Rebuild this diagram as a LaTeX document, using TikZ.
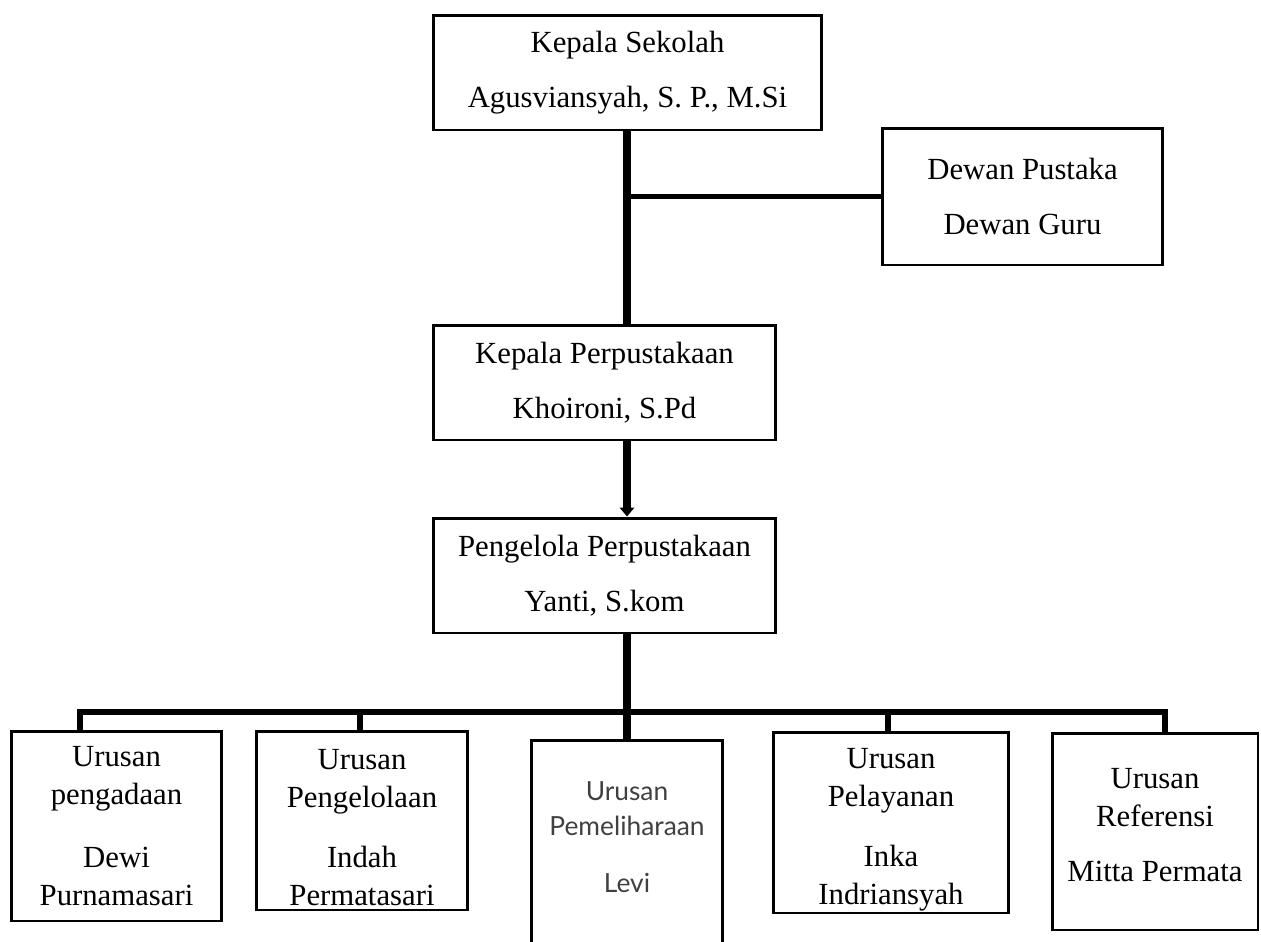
\documentclass[tikz,border=0pt]{standalone}
\usepackage{fontspec}
\setmainfont{Liberation Serif}
\newfontfamily\levifont{Lato}
\usetikzlibrary{arrows.meta}
\tikzset{post/.style={draw, line width=1.7pt, align=center, inner sep=0pt, font=\fontsize{17.5}{21}\selectfont}}
\tikzset{unit/.style={post, font=\fontsize{17.5}{21.6}\selectfont}}
\tikzset{trunk/.style={line width=4.5pt}}
\tikzset{branch/.style={line width=3.4pt, line join=miter}}
\tikzset{side/.style={line width=2.3pt}}
\begin{document}
\begin{tikzpicture}[x=0.02cm, y=-0.02cm]
\clip (0,0) rectangle (1261,941);
\node[post, minimum width=7.78cm, minimum height=2.3cm](boss) at (627.5,72.5){Kepala Sekolah\\[10pt]Agusviansyah, S. P., M.Si};
\node[post, minimum width=5.62cm, minimum height=2.74cm](council) at (1022.5,196.5){Dewan Pustaka\\[10pt]Dewan Guru};
\node[post, minimum width=6.86cm, minimum height=2.3cm](libhead) at (604.5,382.5){Kepala Perpustakaan\\[10pt]Khoironi, S.Pd};
\node[post, minimum width=6.86cm, minimum height=2.3cm](manager) at (604.5,575.5){Pengelola Perpustakaan\\[10pt]Yanti, S.kom};
\node[unit, minimum width=4.22cm, minimum height=3.8cm](unit1) at (116.5,826){Urusan\\pengadaan\\[14pt]Dewi\\Purnamasari};
\node[unit, minimum width=4.24cm, minimum height=3.58cm](unit2) at (362,820.5){\mbox{}\\[-2pt]Urusan\\Pengelolaan\\[12.5pt]Indah\\Permatasari};
\node[unit, minimum width=3.84cm, minimum height=5cm, font=\levifont\fontsize{15}{20}\selectfont, text=black!75](unit3) at (627,865){Urusan\\Pemeliharaan\\[12pt]Levi\\[12pt]\mbox{}};
\node[unit, minimum width=4.72cm, minimum height=3.62cm](unit4) at (891,822.5){\mbox{}\\[-2pt]Urusan\\Pelayanan\\[13pt]Inka\\Indriansyah};
\node[unit, minimum width=4.12cm, minimum height=3.94cm](unit5) at (1155,831.5){Urusan\\Referensi\\[10pt]Mitta Permata\\[-14pt]\mbox{}};
\coordinate (t1) at (80,712);
\coordinate (t2) at (360,712);
\coordinate (t3) at (627,712);
\coordinate (t4) at (888,712);
\coordinate (t5) at (1165,712);
\draw[trunk] (boss.south -| t3) -- (libhead.north -| t3);
\draw[side] (council.west -| t3) -- (council.west);
\draw[trunk, -{Triangle[length=5pt, width=8pt]}] (libhead.south -| t3) -- (manager.north -| t3);
\draw[trunk] (manager.south -| t3) -- (unit3.north);
\draw[branch] (unit1.north -| t1) -- (t1) -- (t5) -- (unit5.north -| t5);
\draw[branch] (t2) -- (unit2.north -| t2);
\draw[branch] (t4) -- (unit4.north -| t4);
\end{tikzpicture}
\end{document}
